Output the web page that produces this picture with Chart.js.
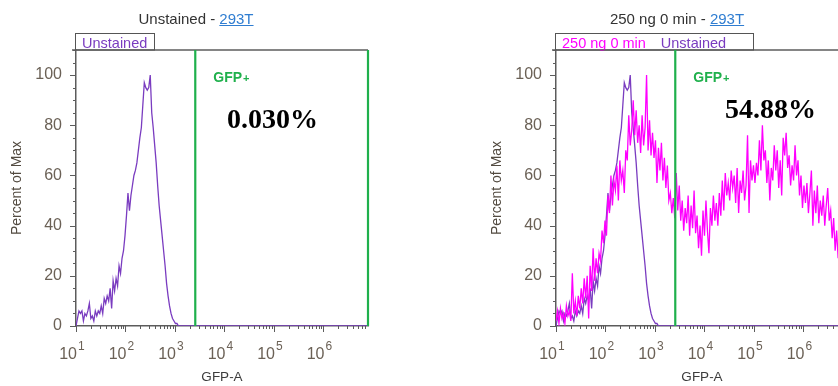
<!DOCTYPE html>
<html>
<head>
<meta charset="utf-8">
<script src="https://cdn.jsdelivr.net/npm/chart.js@4.4.1/dist/chart.umd.min.js"></script>
<style>
  html, body { margin: 0; padding: 0; background: #fff; overflow: hidden; width: 838px; height: 386px; }
  canvas { position: absolute; top: 0; }
  #left { left: 0; }
  #right { left: 480px; }
</style>
</head>
<body>
<canvas id="left" width="400" height="386"></canvas>
<canvas id="right" width="400" height="386"></canvas>
<script>
// histogram bins: log10 of the first bin and bin width in decades
const binStartLog = 1.0;
const binStepLog = 0.03;

// Percent of Max per bin
const unstained = [
  0, 3, 6, 5, 6, 2, 5, 4, 6, 9, 3, 4, 2, 6, 4, 6, 5, 8, 5, 11,
  9, 12, 10, 15, 7, 18, 14, 19, 16, 24, 21, 27, 30, 36, 44, 53, 46, 52, 56, 60,
  62, 65, 70, 75, 79, 88, 97, 95, 94, 95, 100, 85, 79, 72, 65, 56, 48, 42, 36, 30,
  24, 17, 12, 8, 5, 3, 2, 1, 1, 0, 0, 0, 0, 0, 0, 0, 0, 0, 0, 0,
  0, 0, 0, 0, 0, 0, 0, 0, 0, 0, 0, 0, 0, 0, 0, 0, 0, 0, 0, 0,
  0, 0, 0, 0, 0, 0, 0, 0, 0, 0, 0, 0, 0, 0, 0, 0, 0, 0, 0, 0,
  0, 0, 0, 0, 0, 0, 0, 0, 0, 0, 0, 0, 0, 0, 0, 0, 0, 0, 0, 0,
  0, 0, 0, 0, 0, 0, 0, 0, 0, 0, 0, 0, 0, 0, 0, 0, 0, 0, 0, 0,
  0, 0, 0, 0, 0, 0, 0, 0, 0, 0, 0, 0, 0, 0, 0, 0, 0, 0, 0, 0,
  0, 0, 0, 0, 0, 0, 0, 0, 0, 0, 0, 0, 0, 0, 0, 0, 0
];
const stained250 = [
  2, 6, 1, 7, 3, 5, 1, 8, 4, 6, 2, 21, 5, 10, 4, 12, 7, 15, 9, 19,
  11, 20, 3, 24, 14, 31, 18, 27, 21, 29, 26, 38, 33, 42, 36, 52, 45, 60, 48, 58,
  54, 64, 50, 66, 58, 62, 53, 70, 66, 84, 72, 78, 90, 76, 86, 73, 80, 69, 84, 72,
  79, 100, 70, 82, 68, 77, 67, 74, 57, 71, 62, 73, 58, 67, 55, 64, 50, 53, 45, 51,
  43, 61, 46, 56, 42, 50, 38, 47, 41, 52, 36, 48, 39, 54, 37, 44, 31, 40, 28, 46,
  36, 50, 38, 29, 47, 40, 52, 42, 49, 40, 53, 44, 58, 46, 61, 52, 57, 50, 62, 55,
  60, 49, 63, 45, 58, 53, 62, 50, 56, 76, 45, 66, 58, 64, 57, 65, 60, 74, 62, 80,
  66, 70, 57, 66, 50, 63, 58, 72, 62, 70, 55, 66, 52, 75, 68, 77, 63, 68, 56, 64,
  58, 72, 60, 66, 52, 60, 47, 56, 49, 57, 45, 53, 62, 40, 54, 45, 56, 41, 50, 44,
  52, 40, 48, 55, 42, 46, 35, 43, 30, 38, 27, 32, 24, 29, 21, 25, 19
];

const xDecades = [1e1, 1e2, 1e3, 1e4, 1e5, 1e6];
const xExponents = ['1', '2', '3', '4', '5', '6'];
const xMax = 7.94e6;
const yMax = 110;
const gateLow = 2570;

const purple = '#7a3cc0';
const magenta = '#ff00ff';
const green = '#1fb04c';
const axisColor = '#5c5c5c';
const labelColor = '#6b6156';
const family = '"Liberation Sans", Arial, sans-serif';

function toPoints(values) {
  return values.map((v, i) => ({ x: Math.pow(10, binStartLog + i * binStepLog), y: v }));
}

const xTickValues = [];
xDecades.forEach(d => {
  for (let m = 1; m <= 9; m++) if (m * d <= xMax) xTickValues.push(m * d);
});

const panelDecor = {
  id: 'panelDecor',
  afterDraw(chart, args, opts) {
    const { ctx, chartArea: area, scales: { x, y } } = chart;
    ctx.save();

    // tick marks, long on majors
    ctx.strokeStyle = axisColor;
    ctx.lineWidth = 1;
    ctx.beginPath();
    x.ticks.forEach(t => {
      const px = Math.round(x.getPixelForValue(t.value)) + 0.5;
      const len = xDecades.includes(t.value) ? 6 : 3;
      ctx.moveTo(px, area.bottom);
      ctx.lineTo(px, area.bottom + len);
    });
    y.ticks.forEach(t => {
      const py = Math.round(y.getPixelForValue(t.value)) + 0.5;
      const len = t.value % 20 === 0 ? 6 : 3;
      ctx.moveTo(area.left, py);
      ctx.lineTo(area.left - len, py);
    });
    ctx.stroke();

    // decade labels: 10 with raised exponent
    ctx.fillStyle = labelColor;
    ctx.textBaseline = 'alphabetic';
    xDecades.forEach((d, k) => {
      const px = x.getPixelForValue(d);
      ctx.font = '16px ' + family;
      ctx.textAlign = 'right';
      ctx.fillText('10', px + 1, 358.5);
      ctx.font = '12px ' + family;
      ctx.textAlign = 'left';
      ctx.fillText(xExponents[k], px + 2, 350);
    });
    ctx.textAlign = 'left';

    // top frame
    ctx.strokeStyle = axisColor;
    ctx.lineWidth = 1.5;
    ctx.beginPath();
    ctx.moveTo(area.left - 4, area.top);
    ctx.lineTo(area.right, area.top);
    ctx.stroke();

    // legend box
    ctx.font = '14.5px ' + family;
    let lx = area.left + 6;
    chart.data.datasets.forEach(ds => {
      ctx.fillStyle = ds.borderColor;
      ctx.fillText(ds.label, lx, 48);
      lx += ctx.measureText(ds.label).width + 15;
    });
    ctx.strokeStyle = '#555';
    ctx.lineWidth = 1;
    ctx.strokeRect(area.left - 0.5, 33.5, opts.legendWidth, area.top - 33.5);

    // title with link part
    ctx.font = '15px ' + family;
    const a = opts.title + ' - ';
    const wa = ctx.measureText(a).width;
    const wb = ctx.measureText(opts.link).width;
    const tx = opts.titleCenter - (wa + wb) / 2;
    ctx.fillStyle = '#333';
    ctx.fillText(a, tx, 24);
    ctx.fillStyle = '#2f7dd1';
    ctx.fillText(opts.link, tx + wa, 24);
    ctx.fillRect(tx + wa, 25, wb, 1);

    // gate
    const g1 = x.getPixelForValue(gateLow);
    const g2 = x.getPixelForValue(xMax);
    ctx.strokeStyle = green;
    ctx.lineWidth = 2.2;
    ctx.beginPath();
    ctx.moveTo(g1, area.top);
    ctx.lineTo(g1, area.bottom);
    ctx.moveTo(g2, area.top);
    ctx.lineTo(g2, area.bottom);
    ctx.stroke();
    ctx.fillStyle = green;
    ctx.font = 'bold 14px ' + family;
    ctx.fillText('GFP', g1 + 18, 81.5);
    const wg = ctx.measureText('GFP').width;
    ctx.font = 'bold 11px ' + family;
    ctx.fillText('+', g1 + 19 + wg, 81.5);

    // gate percentage
    ctx.fillStyle = '#000';
    ctx.font = 'bold 28px "Liberation Serif", "Times New Roman", serif';
    ctx.fillText(opts.percent, opts.percentX, opts.percentY);
    ctx.restore();
  }
};

function makeChart(id, datasets, panel) {
  return new Chart(document.getElementById(id), {
    type: 'line',
    data: { datasets },
    options: {
      responsive: false,
      animation: false,
      layout: { padding: { left: 0, top: 50, right: 32, bottom: 0 } },
      elements: { point: { radius: 0 }, line: { borderWidth: 1.3, tension: 0 } },
      plugins: { legend: { display: false }, tooltip: { enabled: false }, panelDecor: panel },
      scales: {
        x: {
          type: 'logarithmic',
          min: 10,
          max: xMax,
          afterBuildTicks: s => { s.ticks = xTickValues.map(v => ({ value: v })); },
          afterFit: s => { s.height = 60; },
          grid: { display: false, drawTicks: false },
          border: { color: axisColor, width: 1.5 },
          ticks: { display: false, autoSkip: false },
          title: { display: true, text: 'GFP-A', color: '#3d3d3d', font: { size: 13.5, family }, padding: { top: 0, bottom: 1 } }
        },
        y: {
          min: 0,
          max: yMax,
          afterFit: s => { s.width = 76; },
          grid: { display: false, drawTicks: false },
          border: { color: axisColor, width: 1.5 },
          ticks: {
            stepSize: 5,
            autoSkip: false,
            padding: 14,
            color: labelColor,
            font: { size: 16, family },
            callback: v => (v % 20 === 0 ? v : '')
          },
          title: { display: true, text: 'Percent of Max', color: '#524a40', font: { size: 14, family }, padding: { top: 9, bottom: 0 } }
        }
      }
    },
    plugins: [panelDecor]
  });
}

makeChart('left', [
  { label: 'Unstained', data: toPoints(unstained), borderColor: purple }
], { title: 'Unstained', link: '293T', titleCenter: 196, legendWidth: 79, percent: '0.030%', percentX: 227, percentY: 128 });

makeChart('right', [
  { label: '250 ng 0 min', data: toPoints(stained250), borderColor: magenta },
  { label: 'Unstained', data: toPoints(unstained), borderColor: purple }
], { title: '250 ng 0 min', link: '293T', titleCenter: 197, legendWidth: 198, percent: '54.88%', percentX: 245, percentY: 118 });
</script>
</body>
</html>
